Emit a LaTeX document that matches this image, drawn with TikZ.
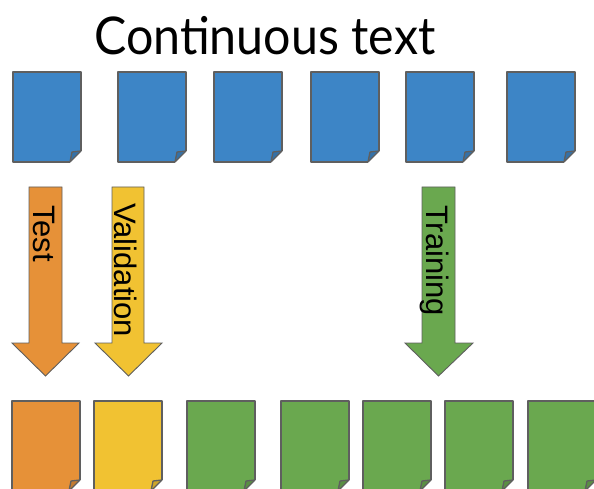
\documentclass[tikz,border=0pt]{standalone}
\usepackage{fontspec}
\setmainfont{Liberation Sans}
\newfontfamily\titlefont{Lato}
\definecolor{docblue}{HTML}{3D85C6}
\definecolor{docorange}{HTML}{E69138}
\definecolor{docyellow}{HTML}{F1C232}
\definecolor{docgreen}{HTML}{6AA84F}
\definecolor{edgegray}{HTML}{5F5F5F}
\tikzset{
  docline/.style={draw=edgegray, line width=1.3pt, line join=round},
  arrowline/.style={draw=edgegray, line width=0.9pt, line join=miter},
  pics/doc/.style={code={
    \fill[#1] (0,0) -- (68,0) -- (68,79) -- (57,90) -- (0,90) -- cycle;
    \draw[docline] (57,90) -- (0,90) -- (0,0) -- (68,0) -- (68,79);
    \filldraw[docline, fill=#1!85!black] (57,90) .. controls (58,85) .. (59,80) -- (68,79) -- cycle;
    \coordinate (-c) at (34,45);
  }},
  lbl/.style={font=\fontsize{31}{31}\selectfont, rotate=-90, anchor=base west, inner sep=0pt}
}
\begin{document}
\begin{tikzpicture}[x=1pt, y=-1pt]
\useasboundingbox (0,0) rectangle (594,489);
\node[font=\titlefont\fontsize{52}{52}\selectfont, anchor=base west, inner sep=0pt] (title) at (94,55) {\scalebox{0.93}[1]{Continuous text}};
% top row
\pic (t1) at (13,72) {doc=docblue};
\pic (t2) at (118,72) {doc=docblue};
\pic (t3) at (214,72) {doc=docblue};
\pic (t4) at (311,72) {doc=docblue};
\pic (t5) at (406,72) {doc=docblue};
\pic (t6) at (507,72) {doc=docblue};
% bottom row
\pic (b1) at (12,401) {doc=docorange};
\pic (b2) at (94,401) {doc=docyellow};
\pic (b3) at (187,401) {doc=docgreen};
\pic (b4) at (281,401) {doc=docgreen};
\pic (b5) at (363,401) {doc=docgreen};
\pic (b6) at (445,401) {doc=docgreen};
\pic (b7) at (528,401) {doc=docgreen};
% arrows
\filldraw[arrowline, fill=docorange] (29,187) -- (62,187) -- (62,343) -- (79,343) -- (45.5,376) -- (12,343) -- (29,343) -- cycle;
\filldraw[arrowline, fill=docyellow] (112,187) -- (144,187) -- (144,343) -- (162,343) -- (128.5,376) -- (95,343) -- (112,343) -- cycle;
\filldraw[arrowline, fill=docgreen] (422,187) -- (455,187) -- (455,343) -- (473,343) -- (438.5,376) -- (405,343) -- (422,343) -- cycle;
\node[lbl] (test) at (33,205) {Test};
\node[lbl] (val) at (114,203) {Validation};
\node[lbl] (train) at (426,205) {Training};
\end{tikzpicture}
\end{document}
